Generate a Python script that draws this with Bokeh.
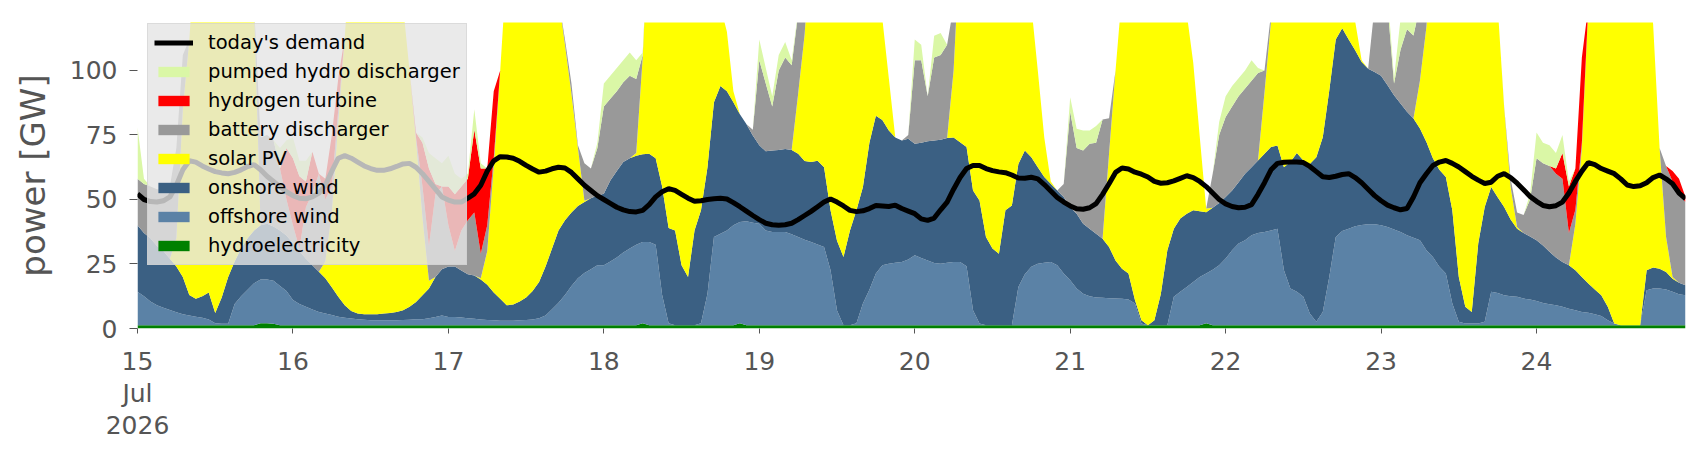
import pandas as pd
from bokeh.plotting import figure
from bokeh.models import (ColumnDataSource, Legend, LegendItem, FixedTicker,
                          CustomJSTickFormatter, Range1d)
from bokeh.embed import file_html
from bokeh.resources import INLINE

# hourly timestamps, 15 Jul 2026 00:00 .. 24 Jul 2026 23:00
times = pd.date_range("2026-07-15 00:00", periods=240, freq="h")

# ---- series values [GW], one row per day (24 hourly values) ----
hydroelectricity = (
    [1.3] * 19 + [2.0, 2.0, 1.8, 1.3, 1.3] +
    [1.3] * 24 +
    [1.3] * 24 +
    [1.3] * 6 + [2.0] + [1.3] * 14 + [2.0] + [1.3] * 2 +
    [1.3] * 24 +
    [1.3] * 24 +
    [1.3] * 21 + [2.0] + [1.3] * 2 +
    [1.3] * 24 +
    [1.3] * 24 +
    [1.3] * 24
)

offshore_wind = [
    12.9, 11.2, 9.2, 7.7, 6.7, 5.9, 5.0, 4.2, 3.7, 3.3, 2.9, 2.2, 0.7, 0.5, 0.5, 8.2, 11.2, 13.7, 16.2, 17.0, 17.0, 16.7, 15.2, 13.2,
    9.7, 8.2, 7.1, 6.1, 5.1, 4.5, 3.9, 3.3, 2.9, 2.6, 2.3, 2.1, 1.9, 1.9, 1.9, 1.9, 1.9, 2.0, 2.1, 2.3, 2.3, 2.7, 3.2, 3.7,
    3.2, 3.2, 3.0, 2.7, 2.5, 2.2, 2.0, 1.9, 1.7, 1.7, 1.7, 1.9, 2.0, 2.2, 2.7, 3.7, 6.2, 8.7, 11.7, 15.2, 18.2, 20.2, 21.7, 23.2,
    23.2, 24.7, 26.2, 28.2, 29.7, 31.2, 31.5, 32.2, 31.2, 11.7, 0.7, 0.0, 0.0, 0.0, 0.0, 0.7, 12.2, 34.2, 35.4, 36.7, 38.7, 39.3, 40.3, 39.7,
    39.3, 36.7, 36.1, 36.1, 36.1, 35.2, 34.2, 33.1, 32.2, 31.3, 30.3, 21.3, 5.7, 0.0, 0.0, 0.7, 8.4, 13.7, 20.0, 23.2, 23.8, 24.2, 24.5, 25.4,
    27.1, 26.0, 25.1, 24.1, 23.8, 24.2, 24.5, 24.5, 22.8, 5.8, 0.6, 0.0, 0.0, 0.0, 0.0, 0.0, 14.8, 19.7, 22.6, 23.8, 24.2, 24.5, 23.2, 20.0,
    17.4, 14.2, 12.2, 11.2, 10.7, 10.6, 10.4, 10.3, 10.2, 9.9, 8.4, 0.6, 0.0, 0.0, 0.0, 0.0, 11.0, 12.9, 14.8, 16.7, 18.7, 19.3, 21.5, 23.2,
    25.8, 29.0, 31.6, 32.9, 34.8, 35.7, 36.1, 36.7, 37.4, 21.3, 14.2, 12.9, 11.0, 4.5, 1.3, 5.1, 18.7, 34.2, 36.5, 37.4, 38.3, 38.8, 39.1, 39.1,
    38.7, 38.0, 37.1, 36.1, 34.8, 33.9, 32.9, 29.0, 26.4, 22.6, 20.0, 8.4, 1.3, 0.6, 0.6, 0.6, 1.3, 12.9, 12.5, 11.6, 11.2, 11.0, 10.3, 9.9,
    9.4, 8.6, 8.1, 7.7, 7.1, 6.4, 5.8, 5.1, 4.8, 4.2, 3.5, 1.9, 0.6, 0.0, 0.0, 0.0, 0.0, 13.5, 14.2, 14.2, 13.8, 12.9, 12.0, 11.6,
]

onshore_wind = [
    25.8, 24.5, 24.5, 23.0, 22.0, 19.8, 17.7, 14.5, 8.0, 6.9, 8.3, 10.5, 4.0, 10.2, 18.2, 16.5, 18.5, 20.0, 20.5, 21.0, 21.6, 21.0, 21.5, 21.5,
    22.0, 20.5, 18.6, 17.1, 15.6, 13.7, 10.8, 7.7, 4.8, 2.9, 2.2, 2.1, 2.3, 2.3, 2.6, 2.8, 3.2, 3.8, 5.0, 6.7, 9.3, 11.5, 15.5, 18.0,
    19.5, 19.5, 18.2, 17.0, 16.7, 15.5, 13.7, 10.8, 8.5, 6.0, 6.3, 7.3, 8.7, 11.0, 14.0, 19.0, 23.5, 28.0, 29.0, 28.5, 28.0, 27.5, 27.5, 27.0,
    27.7, 31.4, 33.5, 35.0, 35.0, 34.5, 34.0, 34.2, 33.5, 42.0, 37.0, 36.7, 23.2, 18.7, 36.7, 43.8, 49.0, 52.2, 57.3, 54.0, 47.7, 41.7, 37.7, 33.8,
    30.4, 30.7, 31.6, 31.8, 32.2, 32.7, 32.2, 30.5, 31.0, 32.4, 30.9, 23.2, 27.0, 26.4, 36.7, 43.8, 45.1, 57.0, 61.2, 56.3, 51.6, 48.5, 47.1, 46.8,
    43.2, 44.7, 46.2, 47.5, 48.1, 48.3, 48.2, 46.4, 46.2, 46.4, 47.7, 34.2, 29.7, 27.7, 44.5, 46.4, 47.7, 48.0, 42.5, 37.4, 33.2, 30.3, 29.0, 29.7,
    28.3, 29.0, 27.1, 26.2, 24.7, 22.9, 19.9, 14.8, 11.7, 10.1, 1.3, 1.3, 0.0, 1.9, 12.2, 29.0, 26.4, 28.4, 28.4, 27.8, 25.4, 23.8, 24.0, 24.1,
    23.9, 23.2, 23.8, 25.8, 26.4, 28.1, 30.3, 32.3, 32.2, 39.9, 49.0, 53.8, 52.8, 58.0, 63.8, 67.7, 72.2, 76.5, 78.6, 73.3, 68.2, 63.2, 60.3, 59.0,
    58.0, 55.0, 52.0, 49.8, 47.9, 46.2, 43.3, 42.0, 38.3, 37.6, 37.4, 36.1, 17.4, 6.5, 4.5, 31.0, 44.5, 40.6, 37.1, 34.2, 29.7, 26.4, 25.4, 24.5,
    23.5, 22.3, 20.3, 18.5, 17.4, 16.8, 15.5, 13.6, 11.3, 9.6, 8.1, 5.2, 0.0, 0.0, 0.0, 0.0, 0.0, 7.8, 8.1, 7.7, 6.8, 5.1, 4.4, 3.9,
]

solar_pv = [
    0, 0, 0, 0, 0, 0, 11.0, 65.0, 99.0, 138.5, 147.5, 151.0, 159.0, 153.0, 140.0, 129.0, 119.0, 110.0, 87.0, 0, 0, 0, 0, 0,
    0, 0, 0, 0, 0, 6.5, 29.0, 67.7, 104.0, 143.2, 154.2, 159.5, 162.5, 162.5, 159.2, 154.0, 143.6, 117.9, 91.6, 62.7, 30.1, 3.0, 0, 0,
    0, 0, 0, 0, 0, 0.5, 13.0, 49.0, 88.5, 131.0, 145.7, 154.5, 158.0, 155.5, 150.0, 136.0, 114.0, 90.0, 68.0, 46.0, 22.5, 0.5, 0, 0,
    0, 0, 0, 0, 0, 1.0, 37.5, 92.3, 109.0, 130.0, 151.0, 152.0, 160.5, 160.0, 132.0, 114.2, 87.5, 47.3, 31.0, 23.0, 4.3, 0, 0, 0,
    0, 0, 0, 0, 0, 0, 23.3, 49.1, 85.5, 100.0, 112.5, 134.2, 146.0, 152.3, 137.0, 119.2, 95.2, 63.0, 42.5, 39.2, 20.3, 0, 0, 0,
    0, 0, 0, 0, 0, 0, 26.0, 77.8, 94.7, 121.5, 130.4, 144.5, 149.0, 149.0, 126.2, 117.3, 91.2, 71.0, 58.6, 37.5, 15.3, 0.9, 0, 0,
    0, 0, 0, 0, 0, 0, 36.1, 73.6, 106.8, 128.7, 154.0, 171.8, 178.7, 176.8, 161.5, 134.7, 111.3, 92.4, 77.5, 57.2, 29.0, 1.4, 0, 0,
    0, 0, 0, 0, 0, 0, 23.8, 48.7, 79.1, 102.5, 110.5, 112.0, 114.9, 114.2, 103.6, 85.9, 57.8, 23.0, 13.6, 13.0, 11.2, 0.7, 0, 0,
    0, 0, 0, 0, 0, 0, 18.5, 44.7, 84.0, 103.5, 116.3, 134.2, 160.0, 169.6, 165.6, 132.1, 107.9, 87.2, 74.1, 38.6, 12.6, 0.6, 0, 0,
    0, 0, 0, 0, 0, 0, 18.0, 50.0, 107.6, 134.9, 152.1, 166.6, 178.1, 178.7, 176.7, 168.7, 158.7, 117.4, 94.4, 46.8, 13.6, 0.7, 0, 0,
]

battery_discharger = [
    18, 19, 20, 22, 24, 28, 35, 21, 0, 0, 0, 0, 0, 0, 0, 0, 0, 0, 0, 34, 34.4, 33.5, 24, 14,
    7, 1, 20, 28, 38, 24, 10, 5, 0, 0, 0, 0, 0, 0, 0, 0, 0, 0, 0, 1, 12, 13.5, 32, 32,
    16, 6, 15.5, 21, 24.5, 9.5, 10, 3, 0, 0, 0, 0, 0, 0, 0, 0, 0, 0, 2, 4, 1, 14.5, 11.5, 18.5,
    33.8, 31.6, 31, 30.9, 32, 28.7, 1, 0, 0, 0, 0, 0, 0, 0, 0, 0, 0, 0, 0, 0, 0, 0, 0, 2.2,
    33, 26.3, 17, 30.8, 35.4, 32.8, 31, 21, 0, 0, 0, 0, 0, 0, 0, 0, 0, 0, 0, 0, 0, 0, 0, 1.5,
    32.4, 32, 17.4, 32.1, 32.8, 36.2, 25, 0, 0, 0, 0, 0, 0, 0, 0, 0, 0, 0, 0, 0, 0, 0, 0, 5,
    37, 25.5, 28.4, 32.9, 35.3, 46.2, 13.8, 0, 0, 0, 0, 0, 0, 0, 0, 0, 0, 0, 0, 0, 0, 0, 13.2, 26.4,
    31, 32.5, 33.3, 33, 33.5, 33.9, 8.5, 3, 0, 0, 0, 0, 0, 0, 0, 0, 0, 0, 0, 0, 0, 0, 0, 25.6,
    32, 30.7, 4.6, 20.8, 32, 32.2, 29, 3, 0, 0, 0, 0, 0, 0, 0, 0, 0, 0, 0, 0.3, 3.2, 5.7, 7, 14.3,
    31.8, 31.8, 33.3, 32.5, 32.2, 12.5, 5.4, 2, 0, 0, 0, 0, 0, 0, 0, 0, 0, 0, 0, 0, 27.5, 37, 34.3, 32.2,
]

hydrogen_turbine = (
    [0] * 23 + [20] +
    [26, 28, 10, 16, 0, 8, 20, 12] + [0] * 11 + [2, 17, 30, 4, 0] +
    [15, 22, 17, 16, 32, 33, 22, 26] + [0] * 16 +
    [0] * 24 * 6 +
    [0, 0, 0, 2, 10, 18, 16, 33] + [0] * 13 + [4, 6, 2]
)

pumped_hydro_discharger = (
    [20, 2] + [0] * 20 + [8, 3] +
    [8, 6, 8] + [0] * 17 + [2, 6, 10, 9] +
    [12, 8, 3, 2, 8, 2] + [0] * 17 + [2] +
    [9, 9, 9, 8.6, 9, 7.3, 1] + [0] * 17 +
    [8, 6, 4, 6, 6, 2, 1] + [0] * 17 +
    [8, 6, 0, 8.5, 8.5, 0] + [0] * 18 +
    [5.6, 7.4, 7.7, 5.1, 6.5] + [0] * 18 + [5] +
    [8, 8, 7, 7, 8, 2] + [0] * 18 +
    [0, 5, 2, 12, 9, 11.4, 5] + [0] * 16 + [2] +
    [10, 8, 8, 6, 7, 2] + [0] * 18
)

todays_demand = [
    52.2, 50.0, 49.2, 49.0, 49.5, 51.0, 55.5, 61.5, 65.0, 64.5, 63.0, 61.8, 60.8, 60.3, 60.0, 60.5, 61.5, 62.8, 63.5, 61.5, 59.0, 57.0, 55.0, 53.0,
    51.5, 50.5, 50.3, 51.0, 52.5, 55.5, 61.0, 66.0, 67.0, 66.0, 64.5, 63.0, 62.0, 61.3, 61.3, 61.9, 62.8, 63.8, 64.0, 62.5, 60.0, 57.0, 54.0, 51.0,
    49.8, 49.0, 49.0, 50.5, 52.2, 55.5, 61.0, 65.0, 66.6, 66.5, 66.0, 64.8, 63.2, 61.8, 60.6, 61.0, 61.9, 62.5, 62.2, 60.5, 58.0, 55.5, 53.5, 51.5,
    50.0, 48.5, 47.0, 46.0, 45.3, 45.2, 45.8, 48.0, 51.0, 53.0, 54.2, 53.5, 52.0, 50.5, 49.3, 49.5, 50.0, 50.3, 50.5, 50.2, 48.8, 47.2, 45.5, 43.8,
    42.2, 40.8, 40.2, 40.0, 40.2, 40.8, 42.2, 43.8, 45.4, 47.2, 49.0, 50.2, 49.0, 47.5, 45.8, 45.3, 45.6, 46.5, 47.7, 47.5, 47.3, 47.8, 46.5, 45.5,
    44.5, 42.5, 41.9, 42.8, 46.0, 49.0, 54.0, 58.5, 62.0, 63.2, 63.2, 62.0, 61.2, 60.7, 60.4, 59.5, 58.3, 58.2, 58.6, 58.0, 55.8, 53.3, 50.8, 49.0,
    47.5, 46.4, 46.2, 46.8, 48.4, 52.0, 56.1, 60.5, 62.2, 61.8, 60.6, 59.8, 58.7, 57.0, 56.3, 56.5, 57.2, 58.2, 59.2, 58.5, 57.0, 55.0, 52.5, 50.0,
    48.3, 47.3, 46.8, 47.0, 48.0, 52.0, 56.5, 61.5, 64.0, 64.4, 64.5, 64.5, 64.3, 62.8, 60.8, 58.8, 58.5, 59.0, 59.7, 60.0, 58.5, 56.5, 54.0, 51.5,
    49.5, 47.8, 46.8, 46.0, 46.5, 51.0, 56.5, 60.0, 63.2, 64.5, 65.1, 64.0, 62.6, 60.8, 59.0, 57.5, 56.2, 56.7, 59.0, 60.0, 58.5, 56.3, 53.8, 51.2,
    49.3, 47.7, 47.2, 47.6, 49.0, 52.5, 57.0, 61.0, 64.3, 63.5, 62.0, 61.0, 60.0, 58.0, 55.6, 55.0, 55.3, 56.5, 58.5, 59.5, 58.0, 56.1, 52.5, 50.3,
]

day_ticks = pd.date_range("2026-07-15", periods=10, freq="D")

names = ["hydro", "offshore", "onshore", "solar", "battery", "hydrogen", "pumped"]
colors = ["#008000", "#5B82A6", "#3B6083", "#FFFF00", "#999999", "#FF0000", "#DAF7A6"]

src = ColumnDataSource(dict(
    t=times,
    hydro=hydroelectricity,
    offshore=offshore_wind,
    onshore=onshore_wind,
    solar=solar_pv,
    battery=battery_discharger,
    hydrogen=hydrogen_turbine,
    pumped=pumped_hydro_discharger,
    demand=todays_demand,
))

FONT = "DejaVu Sans"
GREY = "#555555"

p = figure(width=1706, height=460, x_axis_type="datetime",
           output_backend="svg", toolbar_location=None,
           x_range=Range1d(times[0], times[-1]), y_range=Range1d(0, 118.6),
           min_border_left=137, min_border_right=21,
           min_border_top=22, min_border_bottom=132)

areas = p.varea_stack(stackers=names, x="t", color=colors, source=src)
dline = p.line("t", "demand", source=src, line_color="black", line_width=5)

p.xgrid.grid_line_color = None
p.ygrid.grid_line_color = None
p.outline_line_color = None
p.background_fill_color = "white"
p.border_fill_color = "white"

xa = p.xaxis[0]
xa.ticker = FixedTicker(ticks=[int(d.value // 10**6) for d in day_ticks])
xa.formatter = CustomJSTickFormatter(code="""
const d = new Date(tick);
const day = d.getUTCDate();
if (index == 0) { return day + "\\nJul\\n2026"; }
return "" + day;
""")
xa.axis_line_color = None
xa.major_tick_out = 5
xa.major_tick_in = 0
xa.minor_tick_out = 0
xa.minor_tick_in = 0
xa.major_tick_line_color = GREY
xa.major_label_standoff = 13
xa.major_label_text_font = FONT
xa.major_label_text_font_size = "25px"
xa.major_label_text_color = GREY
xa.major_label_text_line_height = 1.12

ya = p.yaxis[0]
ya.ticker = FixedTicker(ticks=[0, 25, 50, 75, 100])
ya.axis_line_color = None
ya.major_tick_out = 8
ya.major_tick_in = 0
ya.minor_tick_out = 0
ya.minor_tick_in = 0
ya.major_tick_line_color = GREY
ya.major_label_standoff = 12
ya.major_label_text_font = FONT
ya.major_label_text_font_size = "25px"
ya.major_label_text_color = GREY
ya.axis_label = "power [GW]"
ya.axis_label_text_font = FONT
ya.axis_label_text_font_size = "34px"
ya.axis_label_text_font_style = "normal"
ya.axis_label_text_color = GREY
ya.axis_label_standoff = 14

r = dict(zip(names, areas))
items = [
    LegendItem(label="today's demand", renderers=[dline]),
    LegendItem(label="pumped hydro discharger", renderers=[r["pumped"]]),
    LegendItem(label="hydrogen turbine", renderers=[r["hydrogen"]]),
    LegendItem(label="battery discharger", renderers=[r["battery"]]),
    LegendItem(label="solar PV", renderers=[r["solar"]]),
    LegendItem(label="onshore wind", renderers=[r["onshore"]]),
    LegendItem(label="offshore wind", renderers=[r["offshore"]]),
    LegendItem(label="hydroelectricity", renderers=[r["hydro"]]),
]
legend = Legend(items=items, location=(10, 63), margin=0, padding=6, spacing=4,
                label_height=25, glyph_width=39, glyph_height=13, label_standoff=15,
                label_text_font=FONT, label_text_font_size="19.5px", label_text_color="black",
                background_fill_color="#e5e5e5", background_fill_alpha=0.8,
                border_line_color="#cccccc", border_line_width=1)
p.add_layout(legend)

open("out.html", "w").write(file_html(p, INLINE))
